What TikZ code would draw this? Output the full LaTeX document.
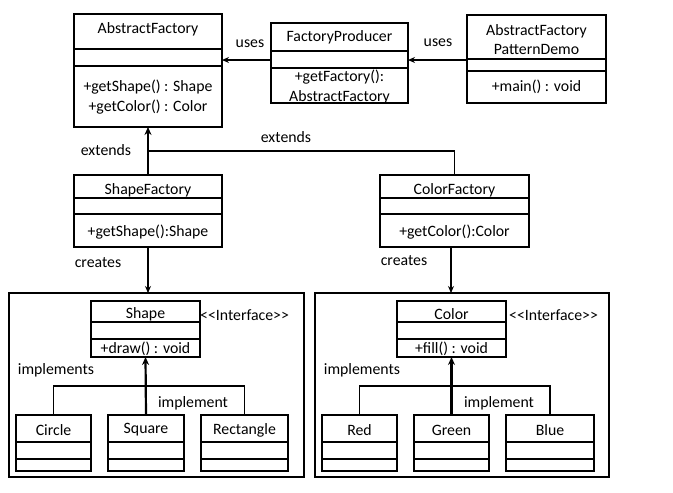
\documentclass[tikz,border=0pt]{standalone}
\usepackage{fontspec}
\setmainfont{Carlito}
\usetikzlibrary{arrows.meta}
\newcommand\umlbox[7]{%
  \node[box, minimum width={(#4-#2)*1pt}, minimum height={(#5-#3)*1pt}] (#1) at ({(#2+#4)/2},{(#3+#5)/2}) {};
  \draw[divline] (#1.west |- 0,#6) -- (#1.east |- 0,#6);
  \draw[divline] (#1.west |- 0,#7) -- (#1.east |- 0,#7);
}
\begin{document}
\begin{tikzpicture}[x=1pt,y=-1pt,
  box/.style={draw, line width=1.3pt, inner sep=0pt, outer sep=0pt},
  divline/.style={line width=1.3pt},
  txt/.style={inner sep=0pt, font=\fontsize{15.8}{19.5}\selectfont, align=center},
  conn/.style={line width=1.3pt, -{Stealth[length=7pt,width=6pt]}},
  heavy/.style={line width=2.2pt, -{Stealth[length=8pt,width=7pt]}},
  plain/.style={line width=1.3pt}]
\useasboundingbox[fill=white] (0,0) rectangle (673,493);

% top row
\umlbox{af}{74}{14}{222}{127}{49}{66}
\node[txt] (aft) at (148,29) {AbstractFactory};
\node[txt] (afm) at (148,97) {+getShape() : Shape\\+getColor() : Color};

\umlbox{fp}{271}{23}{408}{103}{51}{68}
\node[txt] (fpt) at (339.5,37) {FactoryProducer};
\node[txt] (fpm) at (339.5,87) {+getFactory():\\AbstractFactory};

\umlbox{demo}{467}{15}{606}{103}{59}{71}
\node[txt] (demot) at (536.5,39.5) {AbstractFactory\\PatternDemo};
\node[txt] (demom) at (536.5,87) {+main() : void};

\draw[conn] (fp.west |- 0,60) -- (af.east |- 0,60);
\draw[conn] (demo.west |- 0,60) -- (fp.east |- 0,60);
\node[txt] (uses1) at (250,44) {uses};
\node[txt] (uses2) at (438,43) {uses};

% factories
\umlbox{sf}{74}{175}{222}{247}{198}{214}
\node[txt] (sft) at (148,190) {ShapeFactory};
\node[txt] (sfm) at (148,232) {+getShape():Shape};

\umlbox{cf}{380}{175}{529}{247}{198}{214}
\node[txt] (cft) at (454.5,190) {ColorFactory};
\node[txt] (cfm) at (454.5,232) {+getColor():Color};

\coordinate (ej) at (148,151);
\draw[heavy] (sf.north) -- (af.south);
\draw[plain] (cf.north) |- (ej);
\node[txt] (ext1) at (106,150) {extends};
\node[txt] (ext2) at (286,137) {extends};

% containers
\node[box, minimum width=295pt, minimum height=184pt] (lc) at (156.5,385) {};
\node[box, minimum width=294pt, minimum height=184pt] (rc) at (462,385) {};

\draw[conn] (sf.south) -- (sf.south |- lc.north);
\draw[conn] (cf.south -| 451,0) -- (451,293);
\node[txt] (cr1) at (98,263) {creates};
\node[txt] (cr2) at (404,261) {creates};

% interfaces
\umlbox{shp}{91}{301}{200}{357}{322}{339}
\node[txt] (shpt) at (145.5,314) {Shape};
\node[txt] (shpm) at (145.5,349) {+draw() : void};
\node[txt, anchor=west] (shpi) at (200,315) {<{}<Interface>{}>};

\umlbox{col}{397}{301}{506}{357}{322}{339}
\node[txt] (colt) at (451.5,314) {Color};
\node[txt] (colm) at (451.5,349) {+fill() : void};
\node[txt, anchor=west] (coli) at (509,315) {<{}<Interface>{}>};

% concrete classes
\umlbox{circ}{16}{415}{91}{471}{442}{459}
\node[txt] (circt) at (53.5,430) {Circle};
\umlbox{sq}{108}{415}{184}{471}{442}{459}
\node[txt] (sqt) at (146,430) {Square};
\umlbox{rect}{201}{415}{288}{471}{442}{459}
\node[txt] (rectt) at (244.5,430) {Rectangle};

\umlbox{red}{322}{415}{397}{471}{442}{459}
\node[txt] (redt) at (359.5,430) {Red};
\umlbox{grn}{414}{415}{489}{471}{442}{459}
\node[txt] (grnt) at (451.5,430) {Green};
\umlbox{blu}{506}{415}{594}{471}{442}{459}
\node[txt] (blut) at (550,430) {Blue};

\draw[heavy] (sq.north) -- (shp.south);
\draw[plain] (circ.north) -- (circ.north |- 0,386) -- (rect.north |- 0,386) -- (rect.north);
\draw[heavy] (grn.north) -- (col.south);
\draw[plain] (red.north) -- (red.north |- 0,386) -- (blu.north |- 0,386) -- (blu.north);
\node[txt] (imp1) at (56,370) {implements};
\node[txt] (imp2) at (193,403) {implement};
\node[txt] (imp3) at (362,370) {implements};
\node[txt] (imp4) at (499,403) {implement};
\end{tikzpicture}
\end{document}
